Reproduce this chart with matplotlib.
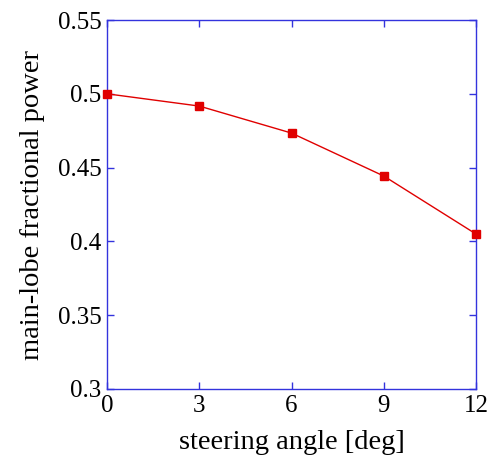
import matplotlib.pyplot as plt

# data
angle = [0, 3, 6, 9, 12]
power = [0.500, 0.4917, 0.4734, 0.4443, 0.405]

plt.rcParams['font.family'] = ['Liberation Serif', 'DejaVu Serif']
plt.rcParams['mathtext.fontset'] = 'stix'

fig = plt.figure(figsize=(4.94, 4.57), dpi=100)
ax = fig.add_axes([0.2166, 0.1488, 0.747, 0.8074])

ax.plot(angle, power, color='#e00000', lw=1.0, marker='s', ms=6,
        markerfacecolor='#e00000', markeredgecolor='#e00000', clip_on=False, zorder=3)

ax.set_xlim(0, 12)
ax.set_ylim(0.3, 0.55)
ax.set_xticks([0, 3, 6, 9, 12])
ax.set_yticks([0.3, 0.35, 0.4, 0.45, 0.5, 0.55])
ax.set_xticklabels(['0', '3', '6', '9', '12'])
ax.set_yticklabels(['0.3', '0.35', '0.4', '0.45', '0.5', '0.55'])

for s in ax.spines.values():
    s.set_color('#3333dd')
    s.set_linewidth(1.0)
ax.tick_params(direction='in', top=True, right=True, length=5, width=1.0,
               color='#3333dd', labelsize=18, labelcolor='black', pad=4)

ax.set_xlabel('steering angle [deg]', fontsize=20.5, labelpad=10)
ax.set_ylabel('main-lobe fractional power', fontsize=20.5, labelpad=9)

fig.savefig('out.png', dpi=100)
